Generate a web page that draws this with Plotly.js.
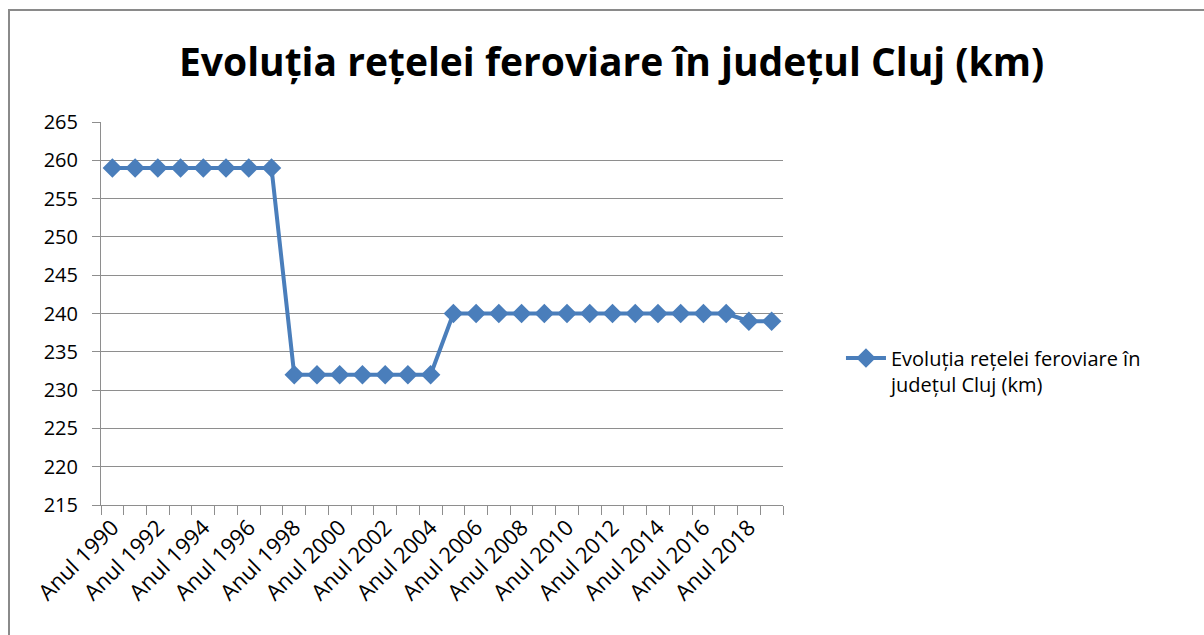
<!DOCTYPE html>
<html>
<head>
<meta charset="utf-8">
<script src="https://cdn.plot.ly/plotly-3.0.1.min.js"></script>
<style>
  html, body { margin: 0; padding: 0; overflow: hidden; background: #fff; }
  #chart { width: 1204px; height: 635px; }
  #frame { position: absolute; left: 8px; top: 9px; width: 1300px; height: 700px;
           border: 2px solid #8a8a8a; pointer-events: none; }
</style>
</head>
<body>
<div id="chart"></div>
<div id="frame"></div>
<script>
const categories = [
  "Anul 1990","Anul 1991","Anul 1992","Anul 1993","Anul 1994","Anul 1995",
  "Anul 1996","Anul 1997","Anul 1998","Anul 1999","Anul 2000","Anul 2001",
  "Anul 2002","Anul 2003","Anul 2004","Anul 2005","Anul 2006","Anul 2007",
  "Anul 2008","Anul 2009","Anul 2010","Anul 2011","Anul 2012","Anul 2013",
  "Anul 2014","Anul 2015","Anul 2016","Anul 2017","Anul 2018","Anul 2019"
];
const values = [
  259,259,259,259,259,259,259,259,
  232,232,232,232,232,232,232,
  240,240,240,240,240,240,240,240,240,240,240,240,240,
  239,239
];
const tickLabels = categories.map((c, i) => (i % 2 === 0 ? c : ""));
const seriesName = "Evoluția rețelei feroviare în<br>județul Cluj (km)";
const titleText = "Evoluția rețelei feroviare în județul Cluj (km)";

const font = "Open Sans, Noto Sans, sans-serif";
const grey = "#8e8e8e";

const trace = {
  type: "scatter",
  mode: "lines+markers",
  x: categories,
  y: values,
  name: seriesName,
  line: { color: "#4a7ebb", width: 4 },
  marker: { symbol: "diamond", size: 15, color: "#4a7ebb" },
  showlegend: true
};

const layout = {
  width: 1204,
  height: 635,
  paper_bgcolor: "#fff",
  plot_bgcolor: "#fff",
  margin: { l: 101, r: 421, t: 122, b: 130 },
  font: { family: font, color: "#000", size: 20 },
  title: {
    text: "<b>" + titleText + "</b>",
    font: { family: font, size: 39, color: "#000" },
    xref: "container", x: 0.508, xanchor: "center",
    yref: "container", y: 0.902, yanchor: "middle"
  },
  xaxis: {
    type: "category",
    range: [-0.5, categories.length - 0.5],
    autorange: false,
    tickmode: "array",
    tickvals: categories,
    ticktext: tickLabels,
    tickson: "boundaries",
    ticks: "outside",
    ticklen: 9,
    tickcolor: grey,
    tickwidth: 1,
    tickangle: -45,
    showline: true,
    linecolor: grey,
    linewidth: 1,
    showgrid: false,
    zeroline: false,
    tickfont: { family: font, size: 22, color: "#000" }
  },
  yaxis: {
    range: [215, 265],
    autorange: false,
    tickmode: "linear",
    tick0: 215,
    dtick: 5,
    ticks: "outside",
    ticklen: 8,
    tickcolor: grey,
    ticklabelstandoff: 10,
    showline: true,
    linecolor: grey,
    showgrid: true,
    gridcolor: grey,
    gridwidth: 1,
    zeroline: false,
    tickfont: { family: font, size: 20, color: "#000" }
  },
  showlegend: true,
  legend: {
    x: 1.085, xanchor: "left",
    y: 0.35, yanchor: "middle",
    valign: "top",
    font: { family: font, size: 20, color: "#000" },
    bgcolor: "rgba(0,0,0,0)",
    itemwidth: 40
  }
};

Plotly.newPlot("chart", [trace], layout, { displayModeBar: false, staticPlot: true });
</script>
</body>
</html>
